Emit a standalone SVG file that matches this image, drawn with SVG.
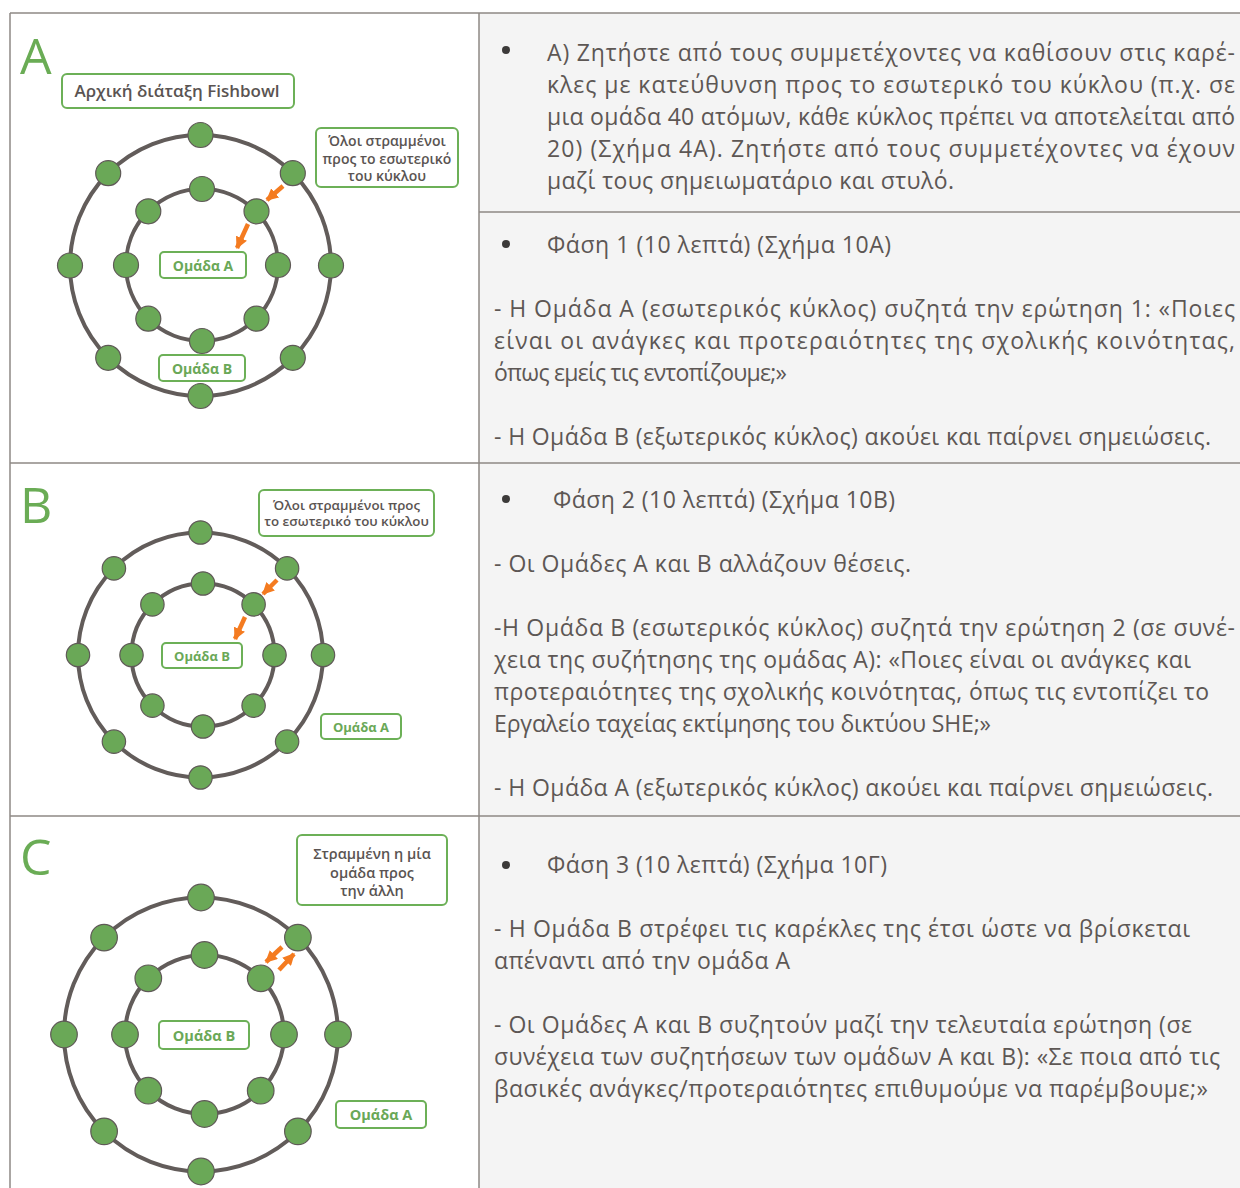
<svg xmlns="http://www.w3.org/2000/svg" width="1240" height="1188" viewBox="0 0 1240 1188">
<defs>
<style>
.ring{fill:none;stroke:#625c5a;stroke-width:4}
.chair{fill:#6aa857;stroke:#5f5957;stroke-width:1.2}
.box{fill:#fff;stroke:#6cb057;stroke-width:2}
.lbl{font-family:"Open Sans","Noto Sans",sans-serif;font-weight:700;fill:#6aa857;text-anchor:middle}
.note{font-family:"Open Sans","Noto Sans",sans-serif;font-weight:600;fill:#5a5452;text-anchor:middle}
.big{font-family:"Open Sans","Noto Sans",sans-serif;font-weight:400;fill:#6aac55;font-size:50px}
.txt{font-family:"Open Sans","Noto Sans",sans-serif;font-size:23px;fill:#5d5754}
.arr{stroke:#f47b20;stroke-width:4.5;fill:none;marker-end:url(#ah)}
.grid{stroke:#8e8884;stroke-width:1.5;fill:none}
</style>
<marker id="ah" markerUnits="userSpaceOnUse" markerWidth="12" markerHeight="12" viewBox="0 0 10 10" refX="9" refY="5" orient="auto">
<path d="M0,0 L10,5 L0,10 z" fill="#f47b20"/>
</marker>
</defs>
<rect x="0" y="0" width="1240" height="1188" fill="#fff"/>
<rect x="479" y="13" width="761" height="1175" fill="#f4f4f4"/>
<g id="table">
<line class="grid" x1="10" y1="13" x2="1240" y2="13"/>
<line class="grid" x1="10" y1="13" x2="10" y2="1188"/>
<line class="grid" x1="479" y1="13" x2="479" y2="1188"/>
<line class="grid" x1="479" y1="212" x2="1240" y2="212"/>
<line class="grid" x1="10" y1="463" x2="1240" y2="463"/>
<line class="grid" x1="10" y1="816" x2="1240" y2="816"/>
</g>

<!-- Panel A -->
<g id="panelA">
<text class="big" x="20" y="74">A</text>
<circle class="ring" cx="200.5" cy="265.5" r="130.5"/>
<circle class="ring" cx="202" cy="265" r="76"/>
<g id="A-outer">
<circle class="chair" cx="200.5" cy="135" r="12.5"/><circle class="chair" cx="292.8" cy="173.2" r="12.5"/>
<circle class="chair" cx="331" cy="265.5" r="12.5"/><circle class="chair" cx="292.8" cy="357.8" r="12.5"/>
<circle class="chair" cx="200.5" cy="396" r="12.5"/><circle class="chair" cx="108.2" cy="357.8" r="12.5"/>
<circle class="chair" cx="70" cy="265.5" r="12.5"/><circle class="chair" cx="108.2" cy="173.2" r="12.5"/>
</g>
<g id="A-inner">
<circle class="chair" cx="202" cy="189" r="12.5"/><circle class="chair" cx="256.5" cy="211.3" r="12.5"/>
<circle class="chair" cx="278" cy="265" r="12.5"/><circle class="chair" cx="256.5" cy="318.7" r="12.5"/>
<circle class="chair" cx="202" cy="341" r="12.5"/><circle class="chair" cx="148.3" cy="318.7" r="12.5"/>
<circle class="chair" cx="126" cy="265" r="12.5"/><circle class="chair" cx="148.3" cy="211.3" r="12.5"/>
</g>
<g id="A-title"><rect class="box" x="62" y="74" width="232" height="34" rx="5"/>
<text class="note" x="177" y="97" font-size="17">Αρχική διάταξη Fishbowl</text></g>
<g id="A-note"><rect class="box" x="316" y="128" width="142" height="59" rx="5"/>
<text class="note" x="387" y="146" font-size="14">Όλοι στραμμένοι</text>
<text class="note" x="387" y="164" font-size="14">προς το εσωτερικό</text>
<text class="note" x="387" y="181" font-size="14">του κύκλου</text></g>
<g id="A-groupA"><rect class="box" x="160" y="252" width="86" height="26" rx="4"/>
<text class="lbl" x="203" y="270.5" font-size="14">Ομάδα Α</text></g>
<g id="A-groupB"><rect class="box" x="159" y="355" width="86" height="26" rx="4"/>
<text class="lbl" x="202" y="373.5" font-size="14">Ομάδα Β</text></g>
</g>

<!-- Panel B -->
<g id="panelB">
<text class="big" x="20" y="523">B</text>
<circle class="ring" cx="200.5" cy="655" r="122.5"/>
<circle class="ring" cx="203" cy="655" r="71.5"/>
<g id="B-outer">
<circle class="chair" cx="200.5" cy="532.5" r="11.7"/><circle class="chair" cx="287.1" cy="568.4" r="11.7"/>
<circle class="chair" cx="323" cy="655" r="11.7"/><circle class="chair" cx="287.1" cy="741.6" r="11.7"/>
<circle class="chair" cx="200.5" cy="777.5" r="11.7"/><circle class="chair" cx="113.9" cy="741.6" r="11.7"/>
<circle class="chair" cx="78" cy="655" r="11.7"/><circle class="chair" cx="113.9" cy="568.4" r="11.7"/>
</g>
<g id="B-inner">
<circle class="chair" cx="203" cy="583.5" r="11.7"/><circle class="chair" cx="253.6" cy="604.4" r="11.7"/>
<circle class="chair" cx="274.5" cy="655" r="11.7"/><circle class="chair" cx="253.6" cy="705.6" r="11.7"/>
<circle class="chair" cx="203" cy="726.5" r="11.7"/><circle class="chair" cx="152.4" cy="705.6" r="11.7"/>
<circle class="chair" cx="131.5" cy="655" r="11.7"/><circle class="chair" cx="152.4" cy="604.4" r="11.7"/>
</g>
<g id="B-note"><rect class="box" x="259" y="490" width="175" height="46" rx="5"/>
<text class="note" x="346.5" y="510" font-size="13.3">Όλοι στραμμένοι προς</text>
<text class="note" x="346.5" y="526" font-size="13.3">το εσωτερικό του κύκλου</text></g>
<g id="B-groupB"><rect class="box" x="162" y="643" width="80" height="25" rx="4"/>
<text class="lbl" x="202" y="660.5" font-size="13">Ομάδα Β</text></g>
<g id="B-groupA"><rect class="box" x="321" y="714" width="80" height="25" rx="4"/>
<text class="lbl" x="361" y="731.5" font-size="13">Ομάδα Α</text></g>
</g>

<!-- Panel C -->
<g id="panelC">
<text class="big" x="20" y="875">C</text>
<circle class="ring" cx="201" cy="1034.5" r="137"/>
<circle class="ring" cx="204.5" cy="1034.5" r="79.5"/>
<g id="C-outer">
<circle class="chair" cx="201" cy="897.5" r="13.3"/><circle class="chair" cx="297.9" cy="937.6" r="13.3"/>
<circle class="chair" cx="338" cy="1034.5" r="13.3"/><circle class="chair" cx="297.9" cy="1131.4" r="13.3"/>
<circle class="chair" cx="201" cy="1171.5" r="13.3"/><circle class="chair" cx="104.1" cy="1131.4" r="13.3"/>
<circle class="chair" cx="64" cy="1034.5" r="13.3"/><circle class="chair" cx="104.1" cy="937.6" r="13.3"/>
</g>
<g id="C-inner">
<circle class="chair" cx="204.5" cy="955" r="13.3"/><circle class="chair" cx="260.7" cy="978.3" r="13.3"/>
<circle class="chair" cx="284" cy="1034.5" r="13.3"/><circle class="chair" cx="260.7" cy="1090.7" r="13.3"/>
<circle class="chair" cx="204.5" cy="1114" r="13.3"/><circle class="chair" cx="148.3" cy="1090.7" r="13.3"/>
<circle class="chair" cx="125" cy="1034.5" r="13.3"/><circle class="chair" cx="148.3" cy="978.3" r="13.3"/>
</g>
<g id="C-note"><rect class="box" x="297" y="835" width="150" height="70" rx="5"/>
<text class="note" x="372" y="859" font-size="14.5">Στραμμένη η μία</text>
<text class="note" x="372" y="878" font-size="14.5">ομάδα προς</text>
<text class="note" x="372" y="896" font-size="14.5">την άλλη</text></g>
<g id="C-groupB"><rect class="box" x="159" y="1021" width="90" height="28" rx="4"/>
<text class="lbl" x="204" y="1040.5" font-size="14.5">Ομάδα Β</text></g>
<g id="C-groupA"><rect class="box" x="336" y="1101" width="90" height="27" rx="4"/>
<text class="lbl" x="381" y="1120" font-size="14.5">Ομάδα Α</text></g>
</g>

<g id="connectors">
<line class="arr" x1="283" y1="186" x2="267" y2="200"/>
<line class="arr" x1="248" y1="224" x2="237" y2="248"/>
<line class="arr" x1="277" y1="580" x2="263" y2="594"/>
<line class="arr" x1="245" y1="617" x2="235" y2="639"/>
<line class="arr" x1="282" y1="947" x2="266" y2="962"/>
<line class="arr" x1="279" y1="970" x2="294" y2="954"/>
</g>

<g id="text">
<g fill="#3c3a39"><circle cx="506" cy="50" r="4"/><circle cx="506" cy="244" r="4"/><circle cx="506" cy="499" r="4"/><circle cx="506" cy="865" r="4"/></g>
<text class="txt" x="547" y="61" textLength="688" lengthAdjust="spacing">Α) Ζητήστε από τους συμμετέχοντες να καθίσουν στις καρέ-</text>
<text class="txt" x="547" y="93" textLength="688" lengthAdjust="spacing">κλες με κατεύθυνση προς το εσωτερικό του κύκλου (π.χ. σε</text>
<text class="txt" x="547" y="125" textLength="688" lengthAdjust="spacing">μια ομάδα 40 ατόμων, κάθε κύκλος πρέπει να αποτελείται από</text>
<text class="txt" x="547" y="157" textLength="688" lengthAdjust="spacing">20) (Σχήμα 4Α). Ζητήστε από τους συμμετέχοντες να έχουν</text>
<text class="txt" x="547" y="189" textLength="407" lengthAdjust="spacing">μαζί τους σημειωματάριο και στυλό.</text>

<text class="txt" x="547" y="253" textLength="344" lengthAdjust="spacing">Φάση 1 (10 λεπτά) (Σχήμα 10Α)</text>
<text class="txt" x="494" y="317" textLength="741" lengthAdjust="spacing">- Η Ομάδα Α (εσωτερικός κύκλος) συζητά την ερώτηση 1: «Ποιες</text>
<text class="txt" x="494" y="349" textLength="741" lengthAdjust="spacing">είναι οι ανάγκες και προτεραιότητες της σχολικής κοινότητας,</text>
<text class="txt" x="494" y="381" textLength="293" lengthAdjust="spacing">όπως εμείς τις εντοπίζουμε;»</text>
<text class="txt" x="494" y="445" textLength="717" lengthAdjust="spacing">- Η Ομάδα Β (εξωτερικός κύκλος) ακούει και παίρνει σημειώσεις.</text>

<text class="txt" x="553" y="508" textLength="342" lengthAdjust="spacing">Φάση 2 (10 λεπτά) (Σχήμα 10Β)</text>
<text class="txt" x="494" y="572" textLength="417" lengthAdjust="spacing">- Οι Ομάδες Α και Β αλλάζουν θέσεις.</text>
<text class="txt" x="494" y="636" textLength="741" lengthAdjust="spacing">-Η Ομάδα Β (εσωτερικός κύκλος) συζητά την ερώτηση 2 (σε συνέ-</text>
<text class="txt" x="494" y="668" textLength="697" lengthAdjust="spacing">χεια της συζήτησης της ομάδας Α): «Ποιες είναι οι ανάγκες και</text>
<text class="txt" x="494" y="700" textLength="715" lengthAdjust="spacing">προτεραιότητες της σχολικής κοινότητας, όπως τις εντοπίζει το</text>
<text class="txt" x="494" y="732" textLength="497" lengthAdjust="spacing">Εργαλείο ταχείας εκτίμησης του δικτύου SHE;»</text>
<text class="txt" x="494" y="796" textLength="719" lengthAdjust="spacing">- Η Ομάδα Α (εξωτερικός κύκλος) ακούει και παίρνει σημειώσεις.</text>

<text class="txt" x="547" y="873" textLength="340" lengthAdjust="spacing">Φάση 3 (10 λεπτά) (Σχήμα 10Γ)</text>
<text class="txt" x="494" y="937" textLength="696" lengthAdjust="spacing">- Η Ομάδα Β στρέφει τις καρέκλες της έτσι ώστε να βρίσκεται</text>
<text class="txt" x="494" y="969" textLength="296" lengthAdjust="spacing">απέναντι από την ομάδα Α</text>
<text class="txt" x="494" y="1033" textLength="698" lengthAdjust="spacing">- Οι Ομάδες Α και Β συζητούν μαζί την τελευταία ερώτηση (σε</text>
<text class="txt" x="494" y="1065" textLength="726" lengthAdjust="spacing">συνέχεια των συζητήσεων των ομάδων Α και Β): «Σε ποια από τις</text>
<text class="txt" x="494" y="1097" textLength="714" lengthAdjust="spacing">βασικές ανάγκες/προτεραιότητες επιθυμούμε να παρέμβουμε;»</text>
</g>
</svg>
